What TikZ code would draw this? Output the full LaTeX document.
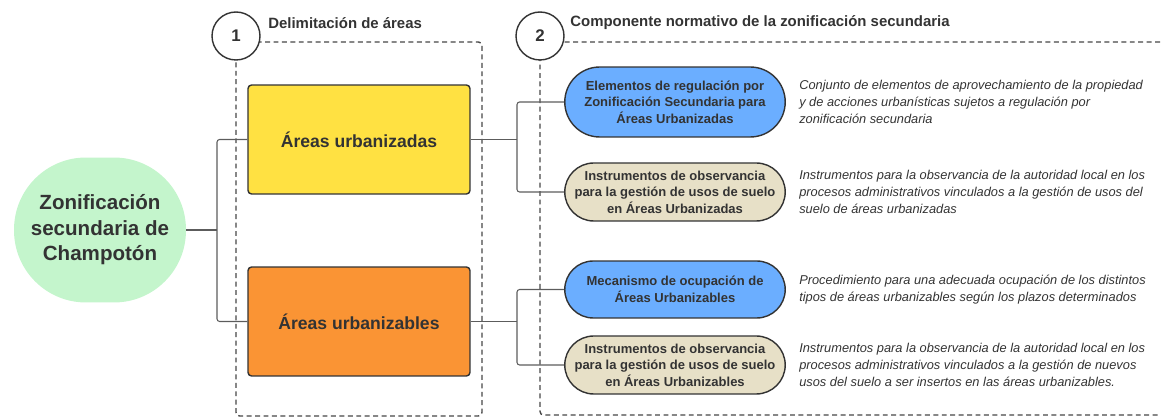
\documentclass[tikz,border=0pt]{standalone}
\usepackage{fontspec}
\setmainfont{Liberation Sans}
\usetikzlibrary{positioning,shapes.misc}
\definecolor{ink}{HTML}{333333}
\definecolor{zgreen}{HTML}{C4F5CC}
\definecolor{zyellow}{HTML}{FFE142}
\definecolor{zorange}{HTML}{FA9434}
\definecolor{zblue}{HTML}{6BAEFF}
\definecolor{zbeige}{HTML}{E7E0C7}
\tikzset{zona/.style={fill=zgreen,rounded corners=1.44cm,minimum width=3.44cm,minimum height=2.9cm,align=center,text=ink,font=\fontsize{11.7}{14.5}\selectfont\bfseries},
  area/.style={draw=ink,line width=0.8pt,rounded corners=2pt,minimum width=4.44cm,minimum height=2.18cm,text=ink,font=\fontsize{10}{11}\selectfont\bfseries},
  pill/.style={rounded rectangle,draw=ink,line width=0.8pt,minimum width=4.48cm,align=center,inner sep=1pt,text=ink,font=\fontsize{7.4}{9.45}\selectfont\bfseries},
  desc/.style={anchor=west,align=left,inner sep=0pt,text=ink,font=\fontsize{7.3}{9.6}\selectfont\itshape},
  num/.style={circle,draw=ink,fill=white,line width=0.8pt,minimum size=0.96cm,inner sep=0pt,text=ink,font=\fontsize{9.6}{11}\selectfont\bfseries},
  head/.style={anchor=west,inner sep=0pt,text=ink,font=\fontsize{8.5}{10}\selectfont\bfseries},
  frame/.style={draw=ink!90,line width=0.8pt,dash pattern=on 2.8pt off 2pt,rounded corners=2pt},
  conn/.style={draw=ink!80,line width=0.6pt,rounded corners=1.5pt}}

\begin{document}
\begin{tikzpicture}[x=0.02cm,y=-0.02cm]
\useasboundingbox (0,0) rectangle (1161,418);
\draw[frame] (236,42) rectangle (482,416);
\draw[frame] (1160,42) -- (540,42) -- (540,415) -- (1160,415);
\node[num] (n1) at (236,36) {1}; \node[head] (h1) at (268,23) {Delimitación de áreas};
\node[num] (n2) at (540,36) {2}; \node[head] (h2) at (570,23) {Componente normativo de la zonificación secundaria};
\node[zona] (zona) at (100,230) {Zonificación\\secundaria de\\Champotón};
\node[area,fill=zyellow] (urb) at (359,139.5) {Áreas urbanizadas};
\node[area,fill=zorange] (ubl) at (359,321.5) {Áreas urbanizables};
\node[pill,fill=zblue,minimum height=1.4cm] (reg) at (675,102) {Elementos de regulación por\\Zonificación Secundaria para\\Áreas Urbanizadas};
\node[pill,fill=zbeige,minimum height=1.16cm] (obs1) at (675,192) {Instrumentos de observancia\\para la gestión de usos de suelo\\en Áreas Urbanizadas};
\node[pill,fill=zblue,minimum height=1.14cm] (ocu) at (675,289.5) {Mecanismo de ocupación de\\Áreas Urbanizables};
\node[pill,fill=zbeige,minimum height=1.16cm] (obs2) at (675,365) {Instrumentos de observancia\\para la gestión de usos de suelo\\en Áreas Urbanizables};
\node[desc,right=0.26cm of reg] (dreg) {Conjunto de elementos de aprovechamiento de la propiedad\\y de acciones urbanísticas sujetos a regulación por\\zonificación secundaria};
\node[desc,right=0.26cm of obs1] (dobs1) {Instrumentos para la observancia de la autoridad local en los\\procesos administrativos vinculados a la gestión de usos del\\suelo de áreas urbanizadas};
\node[desc,right=0.26cm of ocu] (docu) {Procedimiento para una adecuada ocupación de los distintos\\tipos de áreas urbanizables según los plazos determinados};
\node[desc,right=0.26cm of obs2] (dobs2) {Instrumentos para la observancia de la autoridad local en los\\procesos administrativos vinculados a la gestión de nuevos\\usos del suelo a ser insertos en las áreas urbanizables.};
\coordinate (j0) at (217,230); \coordinate (j1) at (517,139.5); \coordinate (j2) at (517,321.5);
\draw[conn] (zona.east) -- (j0);
\draw[conn] (urb.west) -| (j0) |- (ubl.west);
\draw[conn] (urb.east) -- (j1);
\draw[conn] (reg.west) -| (j1) |- (obs1.west);
\draw[conn] (ubl.east) -- (j2);
\draw[conn] (ocu.west) -| (j2) |- (obs2.west);
\end{tikzpicture}
\end{document}
